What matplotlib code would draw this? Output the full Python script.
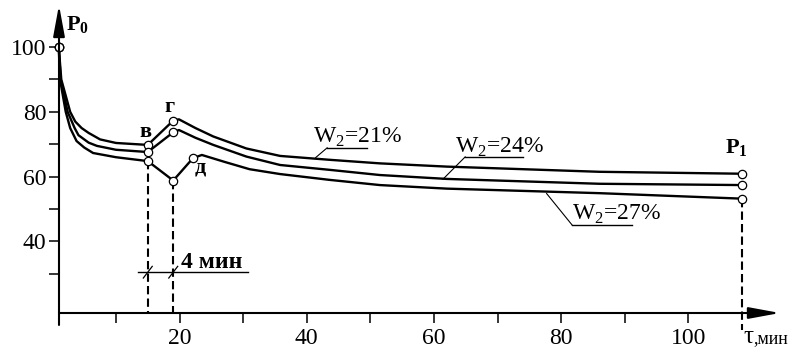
import matplotlib

matplotlib.use("Agg")
import matplotlib.pyplot as plt

plt.rcParams["font.family"] = ["Liberation Serif", "DejaVu Serif"]
plt.rcParams["mathtext.fontset"] = "custom"
plt.rcParams["mathtext.rm"] = "Liberation Serif"
plt.rcParams["mathtext.bf"] = "Liberation Serif:bold"

# P(tau) curves, one per moisture level
tau_21 = [1, 1.4, 2.8, 3.6, 4.6, 5.7, 7.5, 10, 15, 19, 19.9, 22.5, 25.3, 30.5, 35.8, 43.6, 51.5, 62, 86, 108.5]
p_21 = [100, 90, 80, 77, 75, 73.5, 71.5, 70.4, 69.8, 77.3, 77.7, 75.0, 72.4, 68.7, 66.4, 65.2, 64.1, 63.1, 61.5, 60.9]

tau_24 = [1, 1.3, 2.4, 3.5, 4.1, 5.7, 7, 10, 15, 19, 19.9, 22.5, 25.3, 30.5, 35.8, 43.6, 51.5, 62, 86, 108.5]
p_24 = [100, 90, 80, 75, 72.8, 70.5, 69.5, 68.3, 67.6, 73.7, 74.4, 72.0, 69.8, 66.2, 63.6, 62.1, 60.5, 59.3, 57.8, 57.4]

tau_27 = [1, 1.2, 2.1, 2.8, 3.8, 5, 6.4, 10, 15, 19, 22.1, 23.5, 27, 31, 35.8, 43.6, 51.5, 62, 86, 108.5]
p_27 = [100, 90, 80, 75, 71, 69, 67.3, 66, 64.8, 58.8, 65.7, 66.7, 64.6, 62.3, 60.8, 59.0, 57.4, 56.3, 54.9, 53.2]

# characteristic points (start, в, г, д, P1)
key_tau = [1, 15, 19, 22.1, 108.5]
t_v, t_g, t_end = 15, 19, 108.5

labels = ["W$_\\mathrm{2}$=21%", "W$_\\mathrm{2}$=24%", "W$_\\mathrm{2}$=27%"]
x_major = [20, 40, 60, 80, 100]
x_minor = [10, 30, 50, 70, 90]
y_major = [40, 60, 80, 100]
y_minor = [30, 50, 70, 90]

X0, X1 = 1.04, 114.4
Y0, Y1 = 17.9, 113

fig = plt.figure(figsize=(7.92, 3.5), dpi=100)
ax = fig.add_axes([59 / 792, 1 - 313 / 350, (780 - 59) / 792, (313 - 5) / 350])
ax.set_xlim(X0, X1)
ax.set_ylim(Y0, Y1)
for s in ax.spines.values():
    s.set_visible(False)

# curves with open circle markers on the key points
for tau, p in [(tau_21, p_21), (tau_24, p_24), (tau_27, p_27)]:
    idx = [i for i, t in enumerate(tau) if t in key_tau]
    ax.plot(tau, p, color="k", lw=1.7, marker="o", markevery=idx, mfc="white",
            mec="k", ms=6, mew=0.9, zorder=3, clip_on=False,
            solid_joinstyle="round")

# dashed drop lines
dash = (0, (4, 2))
ax.plot([t_v, t_v], [p_27[tau_27.index(t_v)], Y0], color="k", lw=1.5, ls=dash, zorder=2)
ax.plot([t_g, t_g], [p_27[tau_27.index(t_g)], Y0], color="k", lw=1.5, ls=dash, zorder=2)
ax.plot([t_end, t_end], [p_27[-1], 12.7], color="k", lw=1.5, ls=dash, zorder=2, clip_on=False)

# "4 мин" dimension line
dim_y = 30.6
ax.plot([13.5, 30.8], [dim_y, dim_y], color="k", lw=1.0)
for t in (t_v, t_g):
    ax.plot([t - 0.7, t + 0.7], [dim_y - 1.9, dim_y + 1.7], color="k", lw=0.9)
ax.text(20.3, 31.8, "4 мин", fontsize=17, fontweight="bold", ha="left", va="baseline")

# curve labels with underline and leader
lab_pos = [(41.0, 70.4), (63.3, 67.3), (81.7, 46.6)]
underline = [((43.2, 49.5), 68.9), ((64.9, 74.0), 66.1), ((81.7, 91.1), 45.1)]
leader_end = [(41.4, 65.9), (61.4, 59.2), (77.7, 54.8)]
for lab, (tx, ty), ((u0, u1), uy), (lx, ly) in zip(labels, lab_pos, underline, leader_end):
    ax.text(tx, ty, lab, fontsize=17, ha="left", va="baseline")
    ax.plot([u0, u1], [uy, uy], color="k", lw=1.0)
    ax.plot([u0, lx], [uy, ly], color="k", lw=0.8)

# point letters
ax.text(13.7, 72.3, "в", fontsize=16, fontweight="bold", ha="left", va="baseline")
ax.text(17.6, 80.0, "г", fontsize=16, fontweight="bold", ha="left", va="baseline")
ax.text(22.3, 61.3, "д", fontsize=16, fontweight="bold", ha="left", va="baseline")
ax.text(2.1, 105.3, "P$_\\mathbf{0}$", fontsize=16, fontweight="bold", ha="left",
        va="baseline", clip_on=False)
ax.text(105.8, 67.3, "P$_\\mathbf{1}$", fontsize=16, fontweight="bold", ha="left",
        va="baseline")
ax.text(108.6, 8.6, "τ", fontsize=18, ha="left", va="baseline", clip_on=False)
ax.text(110.2, 8.6, ",мин", fontsize=13, ha="left", va="baseline", clip_on=False)

# axes drawn as arrows
arrow = dict(arrowstyle="-|>,head_length=1.9,head_width=0.35", color="k", lw=1.5,
             shrinkA=0, shrinkB=0, mutation_scale=10)
ax.annotate("", xy=(X1, Y0), xytext=(X0, Y0), arrowprops=arrow, annotation_clip=False)
ax.annotate("", xy=(X0, Y1), xytext=(X0, 14.2), arrowprops=arrow, annotation_clip=False)

ax.set_xticks(x_major)
ax.set_xticks(x_minor, minor=True)
ax.set_yticks(y_major)
ax.set_yticks(y_minor, minor=True)
ax.tick_params(which="both", direction="out", length=7, width=1.1)
ax.tick_params(axis="x", labelsize=17, pad=3.5)
ax.tick_params(axis="y", labelsize=17, pad=2)

fig.savefig("out.png", dpi=100)
